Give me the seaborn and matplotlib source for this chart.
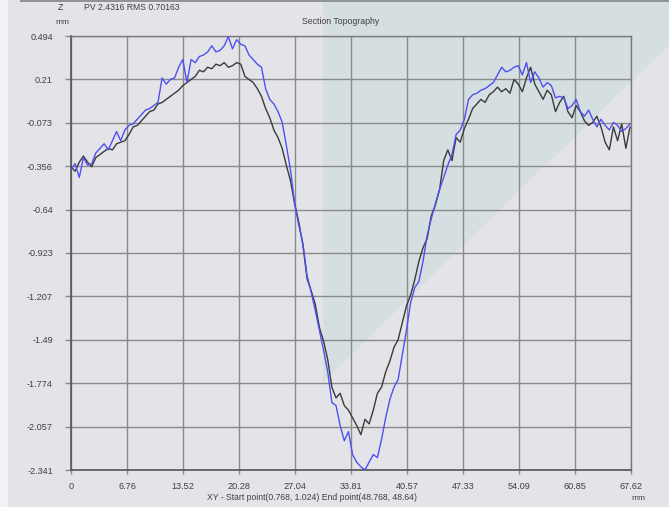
import numpy as np
import pandas as pd
import matplotlib
matplotlib.use("Agg")
import matplotlib.pyplot as plt
import seaborn as sns
from matplotlib.patches import Polygon, Rectangle

# profile sampled every 0.5 mm along the section (mm)
x_step = 0.5

# reference profile (dark trace)
black_z = [
    -0.36, -0.39, -0.33, -0.29, -0.33, -0.36, -0.30, -0.28, -0.26, -0.24,
    -0.25, -0.21, -0.20, -0.19, -0.15, -0.10, -0.09, -0.06, -0.03, 0.00,
    0.01, 0.05, 0.06, 0.08, 0.10, 0.12, 0.14, 0.17, 0.19, 0.21,
    0.23, 0.27, 0.26, 0.29, 0.28, 0.31, 0.30, 0.32, 0.29, 0.30,
    0.32, 0.31, 0.23, 0.21, 0.19, 0.15, 0.10, 0.02, -0.04, -0.12,
    -0.17, -0.24, -0.35, -0.45, -0.60, -0.72, -0.87, -1.09, -1.17, -1.26,
    -1.41, -1.50, -1.62, -1.80, -1.87, -1.84, -1.92, -1.95, -2.00, -2.05,
    -2.11, -2.01, -2.04, -1.95, -1.84, -1.80, -1.70, -1.63, -1.54, -1.49,
    -1.38, -1.27, -1.20, -1.10, -0.98, -0.89, -0.83, -0.68, -0.61, -0.51,
    -0.32, -0.25, -0.32, -0.17, -0.20, -0.11, -0.05, 0.02, 0.05, 0.08,
    0.06, 0.11, 0.13, 0.16, 0.13, 0.15, 0.12, 0.21, 0.18, 0.13,
    0.22, 0.29, 0.18, 0.13, 0.08, 0.14, 0.11, 0.00, 0.06, 0.10,
    0.00, -0.04, 0.04, 0.00, -0.06, -0.09, -0.07, -0.03, -0.10, -0.20,
    -0.25, -0.10, -0.19, -0.08, -0.24, -0.10,
]

# measured profile (blue trace)
blue_z = [
    -0.38, -0.34, -0.43, -0.30, -0.35, -0.34, -0.27, -0.24, -0.21, -0.25,
    -0.19, -0.13, -0.19, -0.12, -0.09, -0.08, -0.05, -0.02, 0.01, 0.02,
    0.04, 0.06, 0.22, 0.18, 0.21, 0.22, 0.29, 0.34, 0.19, 0.34,
    0.32, 0.36, 0.37, 0.39, 0.43, 0.39, 0.40, 0.43, 0.49, 0.41,
    0.47, 0.44, 0.43, 0.37, 0.34, 0.31, 0.29, 0.15, 0.08, 0.05,
    0.00, -0.07, -0.22, -0.38, -0.60, -0.74, -0.86, -1.07, -1.18, -1.30,
    -1.43, -1.56, -1.70, -1.90, -1.92, -2.05, -2.15, -2.09, -2.24, -2.29,
    -2.32, -2.34, -2.29, -2.24, -2.26, -2.14, -2.00, -1.88, -1.80, -1.75,
    -1.59, -1.43, -1.25, -1.15, -1.11, -0.98, -0.81, -0.70, -0.60, -0.51,
    -0.43, -0.35, -0.28, -0.15, -0.12, -0.05, 0.08, 0.11, 0.12, 0.14,
    0.15, 0.17, 0.19, 0.24, 0.29, 0.26, 0.27, 0.29, 0.30, 0.24,
    0.32, 0.19, 0.26, 0.22, 0.16, 0.19, 0.17, 0.09, 0.10, 0.09,
    0.02, 0.04, 0.08, 0.00, -0.03, 0.01, -0.05, -0.10, -0.05, -0.09,
    -0.12, -0.07, -0.09, -0.13, -0.11, -0.08,
]

x_mm = np.round(np.arange(len(black_z)) * x_step, 2)

x_ticks = [0, 6.76, 13.52, 20.28, 27.04, 33.81, 40.57, 47.33, 54.09, 60.85, 67.62]
x_labels = ["0", "6.76", "13.52", "20.28", "27.04", "33.81", "40.57",
            "47.33", "54.09", "60.85", "67.62"]
y_ticks = [0.494, 0.21, -0.073, -0.356, -0.64, -0.923, -1.207, -1.49,
           -1.774, -2.057, -2.341]
y_labels = ["0.494", "0.21", "-0.073", "-0.356", "-0.64", "-0.923",
            "-1.207", "-1.49", "-1.774", "-2.057", "-2.341"]

df = pd.DataFrame({"x": x_mm, "black": black_z, "blue": blue_z})

sns.set_theme(style="white")
plt.rcParams["font.family"] = ["Liberation Sans", "DejaVu Sans"]

W, H = 669, 507
bg = "#e4e4e8"
fig = plt.figure(figsize=(W / 100, H / 100), dpi=100, facecolor=bg)

def fx(px):
    return px / W

def fy(py):
    return 1 - py / H

# pale teal backdrop wedge behind the plot
fig.patches.append(Polygon(
    [(fx(323), fy(0)), (fx(669), fy(0)), (fx(669), fy(45)),
     (fx(323), fy(382))],
    closed=True, transform=fig.transFigure, facecolor="#d5dfe1",
    edgecolor="none", zorder=-2))
fig.patches.append(Rectangle((0, 0), fx(8), 1, transform=fig.transFigure,
                             facecolor="#f2f2f4", edgecolor="none", zorder=-1))
fig.patches.append(Rectangle((fx(20), fy(2)), 1, fy(0) - fy(2),
                             transform=fig.transFigure, facecolor="#8f9597",
                             edgecolor="none", zorder=-1))

ax = fig.add_axes([fx(71), fy(470), fx(631) - fx(71), fy(36) - fy(470)])
ax.set_facecolor("none")

sns.lineplot(data=df, x="x", y="black", ax=ax, color="#3a3a3a", lw=1.0,
             sort=False, estimator=None, zorder=3)
sns.lineplot(data=df, x="x", y="blue", ax=ax, color="#4f4ff2", lw=1.0,
             sort=False, estimator=None, zorder=4)

ax.set_xlim(0, 67.62)
ax.set_ylim(-2.341, 0.494)
ax.set_xticks(x_ticks)
ax.set_xticklabels(x_labels)
ax.set_yticks(y_ticks)
ax.set_yticklabels(y_labels)
ax.set_xlabel("")
ax.set_ylabel("")

ax.grid(True, color="#8a8a8a", lw=1.0)
ax.set_axisbelow(True)
for side in ["top", "right"]:
    ax.spines[side].set_color("#7a7a7a")
    ax.spines[side].set_linewidth(1.0)
for side in ["left", "bottom"]:
    ax.spines[side].set_color("#555555")
    ax.spines[side].set_linewidth(1.2)

ax.tick_params(axis="y", which="both", left=True, length=4, width=1,
               color="#8a8a8a", pad=9, labelsize=6.6, labelcolor="#404040")
ax.tick_params(axis="x", which="both", bottom=True, length=3, width=1,
               color="#8a8a8a", pad=5.5, labelsize=6.6, labelcolor="#404040")

txt = dict(color="#404040", va="center", ha="left")
fig.text(fx(58), fy(8), "Z", fontsize=6.5, **txt)
fig.text(fx(55), fy(22), "mm", fontsize=6, **txt)
fig.text(fx(84), fy(8), "PV 2.4316 RMS 0.70163", fontsize=6.2, **txt)
fig.text(fx(302), fy(21), "Section Topography", fontsize=6.3, **txt)
fig.text(fx(207), fy(497), "XY - Start point(0.768, 1.024) End point(48.768, 48.64)",
         fontsize=6.2, **txt)
fig.text(fx(631), fy(499), "mm", fontsize=6, **txt)

fig.savefig("out.png", dpi=100, facecolor=fig.get_facecolor())
